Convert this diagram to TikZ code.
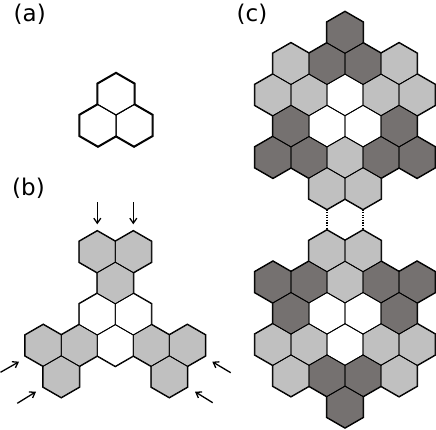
\documentclass[tikz,border=0pt]{standalone}
\usepackage{fontspec}
\setmainfont{DejaVu Sans}
\usetikzlibrary{arrows.meta}
\definecolor{hexlight}{RGB}{192,192,192}
\definecolor{hexdark}{RGB}{117,113,112}
\def\hR{20.8}
\def\hH{18.013}
\newcommand\hexat[2]{(#1,#2) ++(0,-\hR) -- ++(\hH,\hR/2) -- ++(0,\hR) -- ++(-\hH,\hR/2) -- ++(-\hH,-\hR/2) -- ++(0,-\hR) -- cycle}
% (a): row/col(half widths)/colour
\def\alist{0/0/white,1/-1/white,1/1/white}
% (b)
\def\blist{0/-1/hexlight,0/1/hexlight,1/0/hexlight,2/-1/white,2/1/white,3/-4/hexlight,3/-2/hexlight,3/0/white,3/2/hexlight,3/4/hexlight,4/-3/hexlight,4/3/hexlight}
% (c)
\def\clist{0/0/hexdark,1/-3/hexlight,1/-1/hexdark,1/1/hexdark,1/3/hexlight,2/-4/hexlight,2/-2/hexlight,2/0/white,2/2/hexlight,2/4/hexlight,3/-3/hexdark,3/-1/white,3/1/white,3/3/hexdark,4/-4/hexdark,4/-2/hexdark,4/0/hexlight,4/2/hexdark,4/4/hexdark,5/-1/hexlight,5/1/hexlight,7/-1/hexlight,7/1/hexlight,8/-4/hexdark,8/-2/hexdark,8/0/hexlight,8/2/hexdark,8/4/hexdark,9/-3/hexdark,9/-1/white,9/1/white,9/3/hexdark,10/-4/hexlight,10/-2/hexlight,10/0/white,10/2/hexlight,10/4/hexlight,11/-3/hexlight,11/-1/hexdark,11/1/hexdark,11/3/hexlight,12/0/hexdark}
\tikzset{
  panellabel/.style={anchor=base west,inner sep=0pt,font=\fontsize{23}{27}\selectfont},
  pusharrow/.style={-{Straight Barb[length=5pt,width=7pt]},line width=1.3pt,black},
  linkdots/.style={line width=1.3pt,dash pattern=on 1.3pt off 1.3pt,black}
}
% draw a cluster: #1 list, #2 x0, #3 y of row 0, #4 thick, #5 thin
\newcommand\hexcluster[5]{%
  \foreach \k/\c/\col in #1 {\draw[line width=#4,line join=miter] \hexat{#2+\c*\hH}{#3+\k*31.2};}
  \foreach \k/\c/\col in #1 {\fill[\col] \hexat{#2+\c*\hH}{#3+\k*31.2};}
  \foreach \k/\c/\col in #1 {\draw[line width=#5,line join=miter] \hexat{#2+\c*\hH}{#3+\k*31.2};}
}
\begin{document}
\begin{tikzpicture}[x=1pt,y=-1pt]
\useasboundingbox (0,0) rectangle (436,429);
\fill[white] (0,0) rectangle (436,429);
% labels
\node[panellabel] (la) at (13.5,21) {(a)};
\node[panellabel] (lb) at (12,195.4) {(b)};
\node[panellabel] (lc) at (236.5,21) {(c)};
% (a)
\hexcluster{\alist}{116}{94.2}{3pt}{1pt}
% (b)
\hexcluster{\blist}{115.3}{251.8}{2pt}{0.8pt}
% (c)
\hexcluster{\clist}{345}{32.5}{2pt}{0.8pt}
% dotted links
\coordinate (d1a) at (345-18.013,209.3);
\coordinate (d1b) at (345-18.013,230.1);
\coordinate (d2a) at (345+18.013,209.3);
\coordinate (d2b) at (345+18.013,230.1);
\draw[linkdots] (d1a) -- (d1b);
\draw[linkdots] (d2a) -- (d2b);
% arrows
\coordinate (t1) at (97.3,202.3); \coordinate (h1) at (97.3,224.3);
\coordinate (t2) at (133.3,202.3); \coordinate (h2) at (133.3,224.3);
\coordinate (t3) at (0.5,372.3); \coordinate (h3) at (19,361.7);
\coordinate (t4) at (17.3,403.3); \coordinate (h4) at (36,391.7);
\coordinate (t5) at (230.7,372.7); \coordinate (h5) at (212.3,361.7);
\coordinate (t6) at (212.7,402.7); \coordinate (h6) at (195,391.7);
\foreach \i in {1,...,6} {\draw[pusharrow] (t\i) -- (h\i);}
\end{tikzpicture}
\end{document}
